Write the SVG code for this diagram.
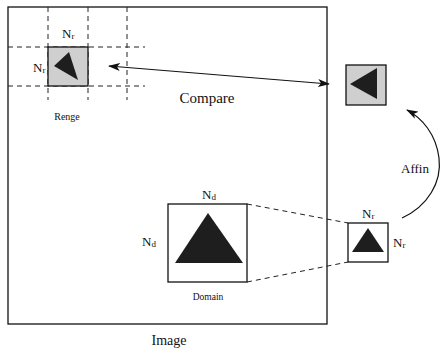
<svg xmlns="http://www.w3.org/2000/svg" width="442" height="356" viewBox="0 0 442 356">
<defs>
<style>
.ln{fill:none;stroke:#111;stroke-width:1.2}
.dash{fill:none;stroke:#222;stroke-width:1;stroke-dasharray:5,4}
.box{fill:#fff;stroke:#111;stroke-width:1.3}
.gbox{fill:#cfcfcf;stroke:#111;stroke-width:1.3}
.tri{fill:#1e1e1e}
text{font-family:"Liberation Serif","Times New Roman",serif;fill:#111}
.lbl{font-size:13px}
.sub{font-size:9px}
</style>
<marker id="ah" viewBox="0 0 12 8" refX="11" refY="4" markerWidth="12" markerHeight="8" markerUnits="userSpaceOnUse" orient="auto-start-reverse">
<path d="M0,0 L12,4 L0,8 L3,4 Z" fill="#111"/>
</marker>
</defs>
<rect width="442" height="356" fill="#fff"/>
<g id="image">
<rect class="box" x="8" y="7" width="319" height="317"/>
<text x="169" y="345" font-size="14" text-anchor="middle">Image</text>
</g>
<g id="grid">
<line class="dash" x1="48" y1="7" x2="48" y2="100"/>
<line class="dash" x1="88" y1="7" x2="88" y2="100"/>
<line class="dash" x1="127" y1="7" x2="127" y2="100"/>
<line class="dash" x1="8" y1="47" x2="145" y2="47"/>
<line class="dash" x1="8" y1="86" x2="145" y2="86"/>
</g>
<g id="range">
<rect class="gbox" x="48" y="47" width="40" height="39"/>
<polygon class="tri" points="54,66 69,52 78,80"/>
<text class="lbl" x="62" y="38">N<tspan class="sub" dy="1">r</tspan></text>
<text class="lbl" x="33" y="72">N<tspan class="sub" dy="1">r</tspan></text>
<text x="67" y="120" font-size="10" text-anchor="middle">Renge</text>
</g>
<g id="target">
<rect class="gbox" x="346" y="65" width="40" height="40"/>
<polygon class="tri" points="350,84 377,68 377,99"/>
</g>
<g id="domain">
<rect class="box" x="168" y="204" width="79" height="78"/>
<polygon class="tri" points="208,213 175,263 243,263"/>
<text class="lbl" x="202" y="199">N<tspan class="sub" dy="1">d</tspan></text>
<text class="lbl" x="142" y="246">N<tspan class="sub" dy="1">d</tspan></text>
<text x="208" y="300" font-size="9.5" text-anchor="middle">Domain</text>
</g>
<g id="small">
<rect class="box" x="348" y="223" width="40" height="39"/>
<polygon class="tri" points="368,228 352,252 384,252"/>
<text class="lbl" x="362" y="218">N<tspan class="sub" dy="1">r</tspan></text>
<text class="lbl" x="393" y="247">N<tspan class="sub" dy="1">r</tspan></text>
</g>
<g id="connectors">
<line class="ln" x1="109" y1="66" x2="329" y2="84" stroke-width="1.6" marker-start="url(#ah)" marker-end="url(#ah)"/>
<text x="207" y="103" font-size="15" text-anchor="middle">Compare</text>
<line class="dash" x1="247" y1="204" x2="348" y2="223"/>
<line class="dash" x1="247" y1="282" x2="348" y2="262"/>
<path class="ln" d="M402,218 C428,206 442,182 439,158 C436,134 422,118 407,110" stroke-width="1.5" marker-end="url(#ah)"/>
<text x="415" y="173" font-size="13" text-anchor="middle">Affin</text>
</g>
</svg>
